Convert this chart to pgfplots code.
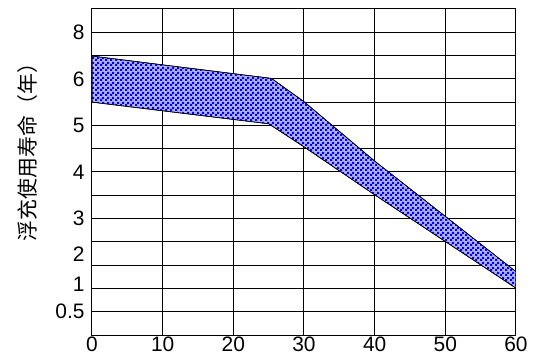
\documentclass[border=0pt]{standalone}
\usepackage{pgfplots}
\pgfplotsset{compat=1.18}
\usetikzlibrary{patterns}
\usepackage{fontspec}
\setmainfont{Liberation Sans}
\newfontfamily\cjk{Noto Sans CJK SC}
\pgfdeclarepatternformonly{finechecker}{\pgfqpoint{0pt}{0pt}}{\pgfqpoint{5bp}{5bp}}{\pgfqpoint{5bp}{5bp}}{%
  \pgfpathrectangle{\pgfqpoint{0pt}{0pt}}{\pgfqpoint{2.5bp}{2.5bp}}%
  \pgfpathrectangle{\pgfqpoint{2.5bp}{2.5bp}}{\pgfqpoint{2.5bp}{2.5bp}}%
  \pgfusepath{fill}}
\begin{document}
\begin{tikzpicture}
\begin{axis}[
  at={(0,0)}, anchor=south west,
  scale only axis,
  width=424bp, height=326bp,
  xmin=0, xmax=60, ymin=0, ymax=14,
  xtick={0,10,...,60},
  ytick={1,2.19,3.46,5,7,9,11,13},
  yticklabels={0.5,1,2,3,4,5,6,8},
  minor ytick={0,1,...,14},
  xmajorgrids, yminorgrids,
  grid style={black, line width=1bp},
  minor grid style={black, line width=1bp},
  axis line style={black, line width=1bp},
  major tick length=0pt, minor tick length=0pt,
  tick style={draw=none},
  /pgf/number format/assume math mode=true,
  ticklabel style={font=\fontsize{21}{21}\selectfont},
  yticklabel style={xshift=-4bp},
  xticklabel style={yshift=2bp},
  ylabel={\cjk 浮充使用寿命（年）},
  ylabel style={at={(axis description cs:-0.153,0.577)}, anchor=center, font=\fontsize{21}{21}\selectfont},
]
\addplot[draw=black, line width=0.6bp, fill=blue!30, postaction={pattern=finechecker, pattern color=blue}]
  coordinates {(0,11.98) (25.4,11.02) (30,10.02) (40,7.47) (60,2.72) (60,2.01) (40,6.02) (30,8.08) (25,9.07) (0,10.0)} -- cycle;
\end{axis}
\path (-92bp,-26bp) rectangle (465bp,335bp);
\end{tikzpicture}
\end{document}
